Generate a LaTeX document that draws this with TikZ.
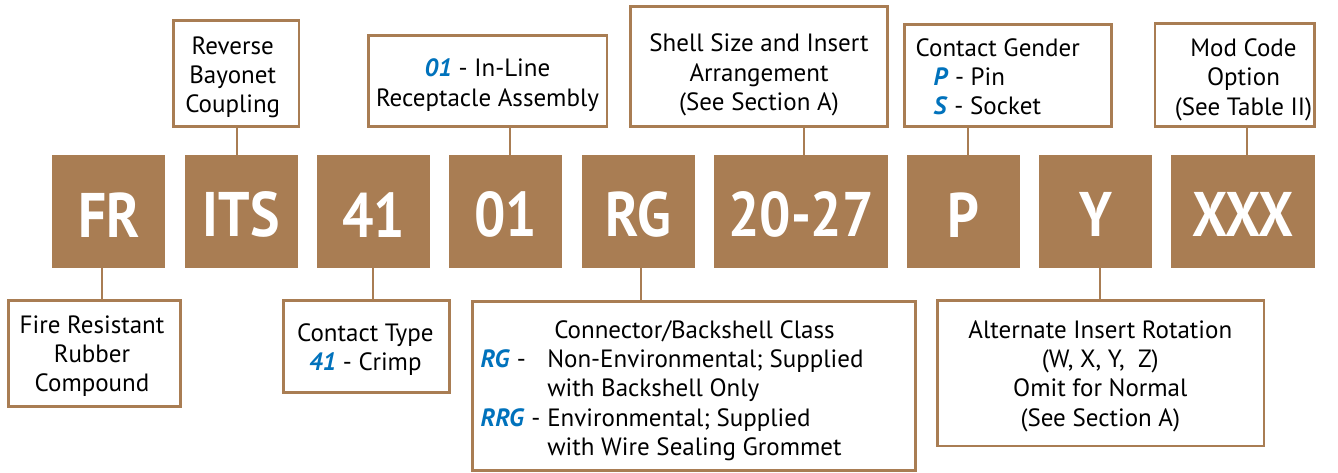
\documentclass[tikz,border=0pt]{standalone}
\usepackage{fontspec}
\setmainfont{PT Sans}
\newfontfamily\codefont[FakeStretch=0.88]{PT Sans}
\definecolor{brn}{RGB}{169,125,83}
\definecolor{blu}{RGB}{0,114,188}
\newcommand{\bl}[1]{\textcolor{blu}{\textbf{\textit{#1}}}}
\begin{document}
\begin{tikzpicture}[x=1pt,y=-1pt,
  code/.style={fill=brn, draw=none, inner sep=0pt, outer sep=0pt, minimum height=113pt},
  wbox/.style={draw=brn, line width=2.8pt, fill=white, inner sep=0pt, outer sep=0pt},
  txt/.style={inner sep=0pt, outer sep=0pt, font=\fontsize{25}{29.3}\selectfont},
  ctxt/.style={text=white, font=\codefont\bfseries\fontsize{63}{63}\selectfont},
  conn/.style={draw=brn, line width=2pt}]
\useasboundingbox (0,0) rectangle (1338,472);
% code boxes
\node[code, minimum width=113pt,   label={[ctxt, yshift=-3pt]center:FR}]    (fr)    at (108.8,211.8) {};
\node[code, minimum width=112.7pt, label={[ctxt, yshift=-3pt]center:ITS}]   (its)   at (241.3,211.8) {};
\node[code, minimum width=113pt,   label={[ctxt, yshift=-3pt]center:41}]    (c41)   at (373.5,211.8) {};
\node[code, minimum width=113pt,   label={[ctxt, yshift=-3pt]center:01}]    (c01)   at (505.8,211.8) {};
\node[code, minimum width=113.3pt, label={[ctxt, yshift=-3pt]center:RG}]    (rg)    at (638.3,211.8) {};
\node[code, minimum width=173.4pt, label={[ctxt, yshift=-3pt]center:20-27}] (c2027) at (801,211.8) {};
\node[code, minimum width=113.3pt, label={[ctxt, yshift=-3pt]center:P}]     (cP)    at (963.3,211.8) {};
\node[code, minimum width=113pt,   label={[ctxt, yshift=-3pt]center:Y}]     (cY)    at (1095.5,211.8) {};
\node[code, minimum width=143.4pt, label={[ctxt, yshift=-3pt]center:XXX}]   (xxx)   at (1243,211.8) {};
% top boxes
\node[wbox, minimum width=125.2pt, minimum height=105.9pt] (rev)    at (236.3,73.65) {};
\node[wbox, minimum width=238.5pt, minimum height=90.9pt]  (inl)    at (487.65,81.15) {};
\node[wbox, minimum width=256.6pt, minimum height=120.5pt] (shell)  at (759,66.35) {};
\node[wbox, minimum width=206.9pt, minimum height=102.5pt] (gender) at (1007.85,75.35) {};
\node[wbox, minimum width=159.3pt, minimum height=103.2pt] (mod)    at (1234.55,75) {};
% bottom boxes
\node[wbox, minimum width=171.9pt, minimum height=105.9pt] (fire)  at (94.65,353.35) {};
\node[wbox, minimum width=166.2pt, minimum height=91.9pt]  (ctype) at (366.2,346.35) {};
\node[wbox, minimum width=443.2pt, minimum height=168.9pt] (cls)   at (693.7,385.85) {};
\node[wbox, minimum width=326.5pt, minimum height=145.2pt] (alt)   at (1100.65,373.3) {};
% texts
\node[txt, anchor=base] (revT) at (232.7,54.3) {\begin{tabular}[t]{@{}c@{}}Reverse\\Bayonet\\Coupling\end{tabular}};
\node[txt, anchor=base] (inlT) at (487.5,76.7) {\begin{tabular}[t]{@{}c@{}}\bl{01} - In-Line\\Receptacle Assembly\end{tabular}};
\node[txt, anchor=base] (shellT) at (759,51.7) {\begin{tabular}[t]{@{}c@{}}Shell Size and Insert\\Arrangement\\(See Section A)\end{tabular}};
\node[txt, anchor=base west] (genderT) at (915.7,56) {\begin{tabular}[t]{@{}l@{}}Contact Gender\\\hspace{17.9pt}\bl{P} - Pin\\\hspace{17.9pt}\bl{S} - Socket\end{tabular}};
\node[txt, anchor=base] (modT) at (1243.5,56.5) {\begin{tabular}[t]{@{}c@{}}Mod Code\\Option\\(See Table II)\end{tabular}};
\node[txt, anchor=base] (fireT) at (92,333.3) {\begin{tabular}[t]{@{}c@{}}Fire Resistant\\Rubber\\Compound\end{tabular}};
\node[txt, anchor=base] (ctypeT) at (365.3,341) {\begin{tabular}[t]{@{}c@{}}Contact Type\\\bl{41} - Crimp\end{tabular}};
\node[txt, anchor=base west] (clsT) at (480.7,338.3) {\begin{tabular}[t]{@{}l@{}l@{}}
\multicolumn{2}{@{}l@{}}{\hspace{73.6pt}Connector/Backshell Class}\\
\makebox[66.6pt][l]{\bl{RG} -} & Non-Environmental; Supplied\\
 & with Backshell Only\\
\makebox[66.6pt][l]{\bl{RRG} -} & Environmental; Supplied\\
 & with Wire Sealing Grommet
\end{tabular}};
\node[txt, anchor=base] (altT) at (1100.3,338.3) {\begin{tabular}[t]{@{}c@{}}Alternate Insert Rotation\\(W, X, Y,\ \ Z)\\Omit for Normal\\(See Section A)\end{tabular}};
% connectors
\draw[conn] (rev.south -| 237.3,0) -- (its.north -| 237.3,0);
\draw[conn] (inl.south -| 509.5,0) -- (c01.north -| 509.5,0);
\draw[conn] (shell.south -| 804,0) -- (c2027.north -| 804,0);
\draw[conn] (gender.south -| 967.7,0) -- (cP.north -| 967.7,0);
\draw[conn] (mod.south -| 1247,0) -- (xxx.north -| 1247,0);
\draw[conn] (fr.south -| 102,0) -- (fire.north -| 102,0);
\draw[conn] (c41.south -| 373,0) -- (ctype.north -| 373,0);
\draw[conn] (rg.south -| 640.5,0) -- (cls.north -| 640.5,0);
\draw[conn] (cY.south -| 1100,0) -- (alt.north -| 1100,0);
\end{tikzpicture}
\end{document}
